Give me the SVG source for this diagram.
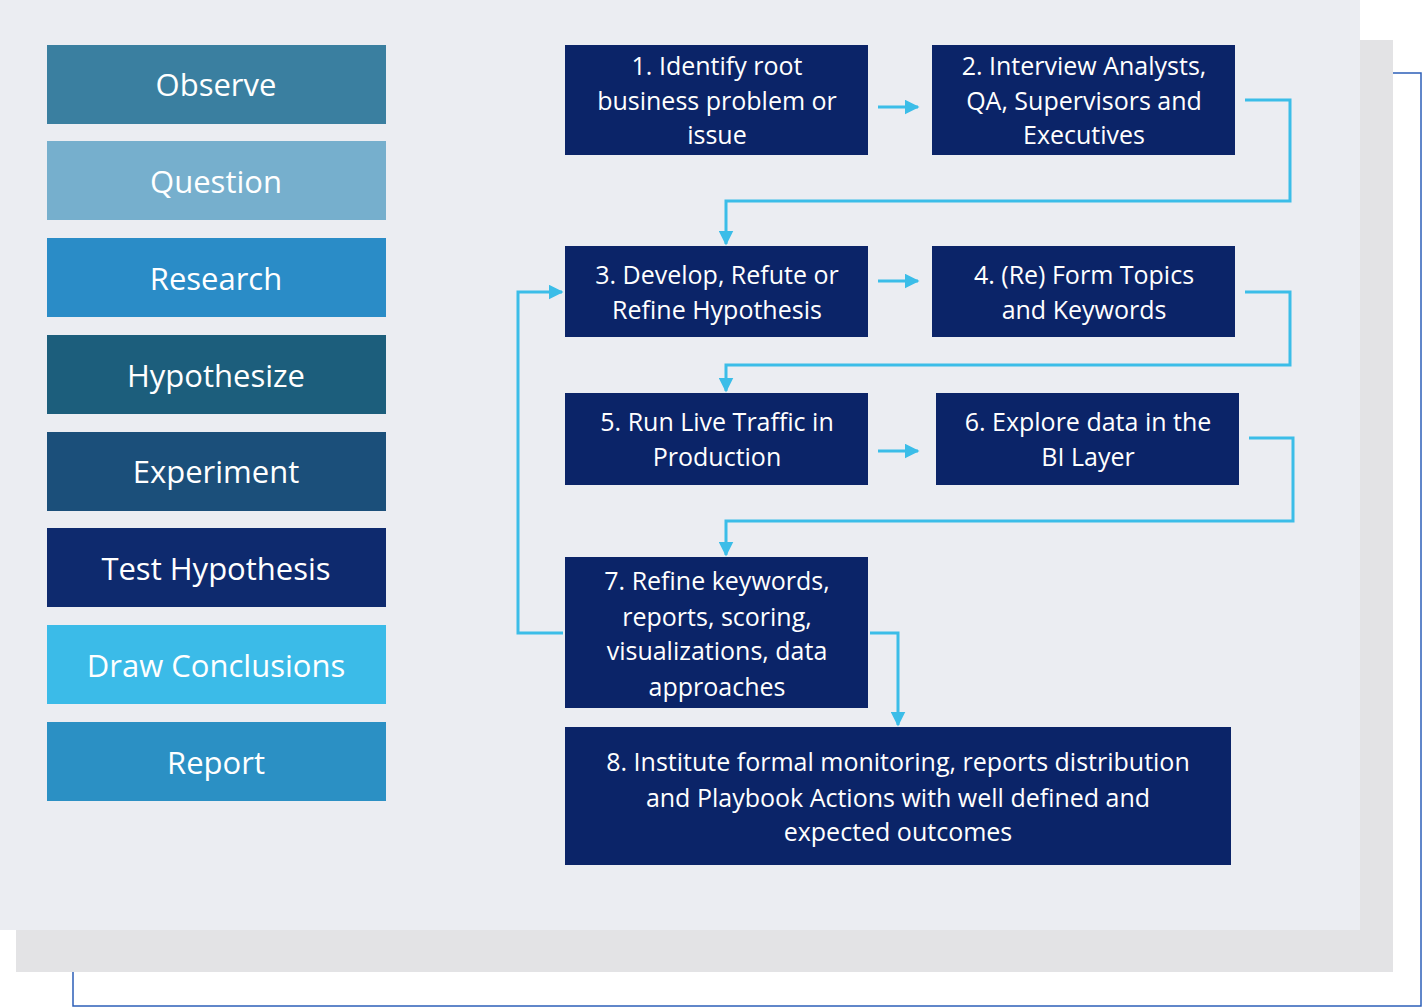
<svg xmlns="http://www.w3.org/2000/svg" width="1423" height="1008" viewBox="0 0 1423 1008">
<style>
.l{font-family:"Open Sans","Noto Sans",sans-serif;font-size:31px;fill:#fff;text-anchor:middle}
.r{font-family:"Open Sans","Noto Sans",sans-serif;font-size:25px;fill:#fff;text-anchor:middle}
.n{fill:#0b2468}
.c{fill:none;stroke:#3bbde8;stroke-width:3}
</style>
<defs><marker id="a" viewBox="0 0 10 10" refX="9" refY="5" markerWidth="5" markerHeight="5" orient="auto"><path d="M0,0L10,5L0,10z" fill="#3bbde8"/></marker></defs>
<rect width="1423" height="1008" fill="#fff"/>
<rect x="73" y="73" width="1348" height="933" fill="none" stroke="#2d5fb8" stroke-width="1.5"/>
<rect x="16" y="40" width="1377" height="932" fill="#e3e3e5"/>
<rect x="0" y="0" width="1360" height="930" fill="#ebedf2"/>
<g id="observe"><rect x="47" y="45" width="339" height="79" fill="#3a7fa0"/><text class="l" x="216" y="96">Observe</text></g>
<g id="question"><rect x="47" y="141" width="339" height="79" fill="#76afcd"/><text class="l" x="216" y="193">Question</text></g>
<g id="research"><rect x="47" y="238" width="339" height="79" fill="#2a8cc7"/><text class="l" x="216" y="290">Research</text></g>
<g id="hypothesize"><rect x="47" y="335" width="339" height="79" fill="#1c5e7c"/><text class="l" x="216" y="387">Hypothesize</text></g>
<g id="experiment"><rect x="47" y="432" width="339" height="79" fill="#1b4f7a"/><text class="l" x="216" y="483">Experiment</text></g>
<g id="test"><rect x="47" y="528" width="339" height="79" fill="#0e2a6e"/><text class="l" x="216" y="580">Test Hypothesis</text></g>
<g id="draw"><rect x="47" y="625" width="339" height="79" fill="#3bbbe8"/><text class="l" x="216" y="677">Draw Conclusions</text></g>
<g id="report"><rect x="47" y="722" width="339" height="79" fill="#2b90c4"/><text class="l" x="216" y="774">Report</text></g>
<g id="s1"><rect class="n" x="565" y="45" width="303" height="110"/><text class="r" x="717" y="75">1. Identify root</text><text class="r" x="717" y="110">business problem or</text><text class="r" x="717" y="144">issue</text></g>
<g id="s2"><rect class="n" x="932" y="45" width="303" height="110"/><text class="r" x="1084" y="75">2. Interview Analysts,</text><text class="r" x="1084" y="110">QA, Supervisors and</text><text class="r" x="1084" y="144">Executives</text></g>
<g id="s3"><rect class="n" x="565" y="246" width="303" height="91"/><text class="r" x="717" y="284">3. Develop, Refute or</text><text class="r" x="717" y="319">Refine Hypothesis</text></g>
<g id="s4"><rect class="n" x="932" y="246" width="303" height="91"/><text class="r" x="1084" y="284">4. (Re) Form Topics</text><text class="r" x="1084" y="319">and Keywords</text></g>
<g id="s5"><rect class="n" x="565" y="393" width="303" height="92"/><text class="r" x="717" y="431">5. Run Live Traffic in</text><text class="r" x="717" y="466">Production</text></g>
<g id="s6"><rect class="n" x="936" y="393" width="303" height="92"/><text class="r" x="1088" y="431">6. Explore data in the</text><text class="r" x="1088" y="466">BI Layer</text></g>
<g id="s7"><rect class="n" x="565" y="557" width="303" height="151"/><text class="r" x="717" y="590">7. Refine keywords,</text><text class="r" x="717" y="626">reports, scoring,</text><text class="r" x="717" y="660">visualizations, data</text><text class="r" x="717" y="696">approaches</text></g>
<g id="s8"><rect class="n" x="565" y="727" width="666" height="138"/><text class="r" x="898" y="771">8. Institute formal monitoring, reports distribution</text><text class="r" x="898" y="807">and Playbook Actions with well defined and</text><text class="r" x="898" y="841">expected outcomes</text></g>
<g id="connectors">
<path class="c" d="M878,107H918" marker-end="url(#a)"/>
<path class="c" d="M1245,100H1290V201H726V244" marker-end="url(#a)"/>
<path class="c" d="M878,281H918" marker-end="url(#a)"/>
<path class="c" d="M1245,292H1290V365H726V391" marker-end="url(#a)"/>
<path class="c" d="M878,451H918" marker-end="url(#a)"/>
<path class="c" d="M1249,438H1293V521H726V555" marker-end="url(#a)"/>
<path class="c" d="M870,633H898V725" marker-end="url(#a)"/>
<path class="c" d="M563,633H518V292H562" marker-end="url(#a)"/>
</g>
</svg>
